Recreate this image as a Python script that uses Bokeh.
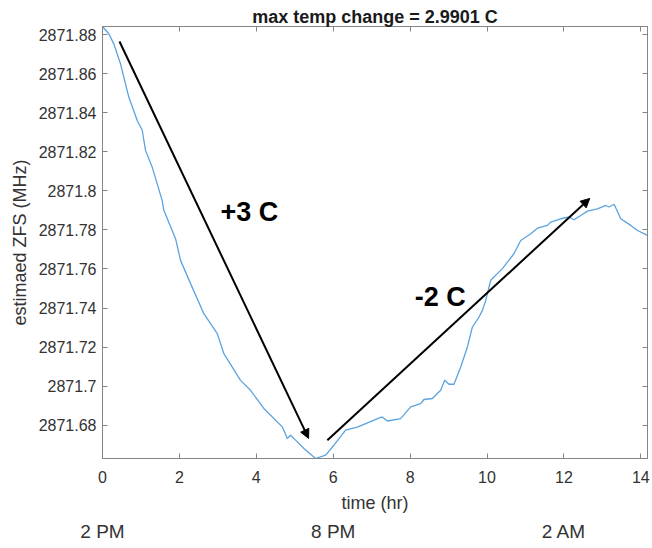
from bokeh.plotting import figure
from bokeh.models import (Range1d, LinearAxis, FixedTicker, CustomJSTickFormatter,
                          Arrow, NormalHead, LabelSet, ColumnDataSource)
from bokeh.core.properties import value
from bokeh.embed import file_html
from bokeh.resources import INLINE

# ---------------- data ----------------
time_hr = [0, 0.164, 0.294, 0.468, 0.684, 0.903, 1.033, 1.119, 1.293, 1.553, 1.595, 1.90,
           2.03, 2.29, 2.636, 2.985, 3.156, 3.59, 3.85, 4.197, 4.676, 4.806, 4.892, 5.022,
           5.238, 5.543, 5.803, 6.019, 6.323, 6.628, 7.234, 7.278, 7.408, 7.754, 8.015,
           8.275, 8.361, 8.579, 8.795, 8.899, 9.011, 9.141, 9.316, 9.49, 9.62, 9.792, 9.88,
           9.966, 10.096, 10.40, 10.70, 10.877, 11.137, 11.312, 11.572, 11.657, 11.918,
           12.134, 12.264, 12.438, 12.613, 12.873, 13.089, 13.175, 13.305, 13.479, 13.739,
           13.914, 14.174]
zfs_mhz = [2871.8841, 2871.8804, 2871.8752, 2871.865, 2871.848, 2871.836, 2871.831,
           2871.8207, 2871.8121, 2871.795, 2871.790, 2871.7755, 2871.7644, 2871.7525,
           2871.7371, 2871.7269, 2871.7167, 2871.703, 2871.6979, 2871.6886, 2871.6792,
           2871.6732, 2871.6749, 2871.6724, 2871.6681, 2871.6630, 2871.6647, 2871.6698,
           2871.6775, 2871.6791, 2871.684, 2871.6842, 2871.6822, 2871.6834, 2871.6894,
           2871.6911, 2871.6932, 2871.6937, 2871.6979, 2871.703, 2871.701, 2871.701,
           2871.7098, 2871.7201, 2871.7303, 2871.7354, 2871.7388, 2871.7439, 2871.7542,
           2871.7602, 2871.7678, 2871.7746, 2871.778, 2871.7809, 2871.7823, 2871.784,
           2871.7857, 2871.7866, 2871.7852, 2871.7874, 2871.7896, 2871.7908, 2871.7925,
           2871.7917, 2871.7931, 2871.7857, 2871.7823, 2871.7797, 2871.7772]

x_ticks = [0, 2, 4, 6, 8, 10, 12, 14]
y_ticks = [2871.68, 2871.70, 2871.72, 2871.74, 2871.76, 2871.78,
           2871.80, 2871.82, 2871.84, 2871.86, 2871.88]

clock_hours = [0, 6, 12]
clock_labels = ["2 PM", "8 PM", "2 AM"]

title_text = "max temp change = 2.9901 C"
x_label = "time (hr)"
y_label = "estimaed ZFS (MHz)"

arrow_start_t = [0.442, 5.848]
arrow_start_v = [2871.8764, 2871.6723]
arrow_end_t = [5.36, 12.672]
arrow_end_v = [2871.6733, 2871.7961]
arrow_labels = ["+3 C", "-2 C"]
arrow_label_t = [3.07, 8.12]
arrow_label_v = [2871.789, 2871.7455]

# ---------------- layout ----------------
W, H = 652, 548
L, R, T, B = 102, 5, 26, 90
x0, x1 = 0, max(time_hr)
y0, y1 = min(zfs_mhz), max(zfs_mhz)

FONT = "Liberation Sans"
AX = "#858585"
TXT = "#333333"

p = figure(width=W, height=H, x_range=Range1d(x0, x1), y_range=Range1d(y0, y1),
           output_backend="svg", toolbar_location=None,
           min_border_left=L, min_border_right=R, min_border_top=T, min_border_bottom=B,
           background_fill_color="white", border_fill_color="white",
           title=title_text)
p.grid.visible = False
p.outline_line_color = AX
p.outline_line_width = 1

p.title.align = "center"
p.title.text_font = FONT
p.title.text_font_size = "18px"
p.title.text_font_style = "bold"
p.title.text_color = "#1a1a1a"
p.title.standoff = 0
p.title.offset = 0

p.line(time_hr, zfs_mhz, line_color="#5aa3e0", line_width=1.3)

def style_axis(ax, size="16px"):
    ax.axis_line_color = AX
    ax.major_tick_line_color = AX
    ax.major_tick_in = 5
    ax.major_tick_out = 0
    ax.minor_tick_line_color = None
    ax.major_label_text_font = FONT
    ax.major_label_text_color = TXT
    ax.major_label_text_font_size = size
    ax.axis_label_text_font = FONT
    ax.axis_label_text_color = TXT
    ax.axis_label_text_font_size = "18px"
    ax.axis_label_text_font_style = "normal"

xa = p.xaxis[0]
xa.ticker = FixedTicker(ticks=x_ticks)
style_axis(xa)
xa.major_label_standoff = 12
xa.axis_label = x_label
xa.axis_label_standoff = 7

ya = p.yaxis[0]
ya.ticker = FixedTicker(ticks=y_ticks)
ya.formatter = CustomJSTickFormatter(code="return tick.toFixed(2).replace(/\\.?0+$/, '');")
style_axis(ya)
ya.major_label_standoff = 6
ya.axis_label = y_label
ya.axis_label_standoff = 6

# clock-time axis below the hours axis
clock = LinearAxis(ticker=FixedTicker(ticks=clock_hours),
                   major_label_overrides={h: s for h, s in zip(clock_hours, clock_labels)})
style_axis(clock, size="19px")
clock.axis_line_color = None
clock.major_tick_line_color = None
clock.major_tick_in = 0
clock.major_label_standoff = 5
p.add_layout(clock, "below")

# box ticks on top (its empty label space lifts the title a little)
top = LinearAxis(ticker=FixedTicker(ticks=x_ticks))
style_axis(top, size="0px")
top.major_label_standoff = 4
p.add_layout(top, "above")

right = LinearAxis(ticker=FixedTicker(ticks=y_ticks))
style_axis(right, size="0px")
right.major_label_standoff = 0
p.add_layout(right, "right")

# arrows
arr = ColumnDataSource(dict(xs=arrow_start_t, ys=arrow_start_v, xe=arrow_end_t, ye=arrow_end_v))
p.add_layout(Arrow(end=NormalHead(size=9, fill_color="black", line_color="black", line_width=1),
                   x_start="xs", y_start="ys", x_end="xe", y_end="ye", source=arr,
                   line_color="black", line_width=2))

ann = ColumnDataSource(dict(x=arrow_label_t, y=arrow_label_v, t=arrow_labels))
p.add_layout(LabelSet(x="x", y="y", text="t", source=ann, text_font=value(FONT),
                      text_font_size="27px", text_font_style="bold", text_color="black",
                      text_align="left", text_baseline="middle"))

open("out.html", "w").write(file_html(p, INLINE))
